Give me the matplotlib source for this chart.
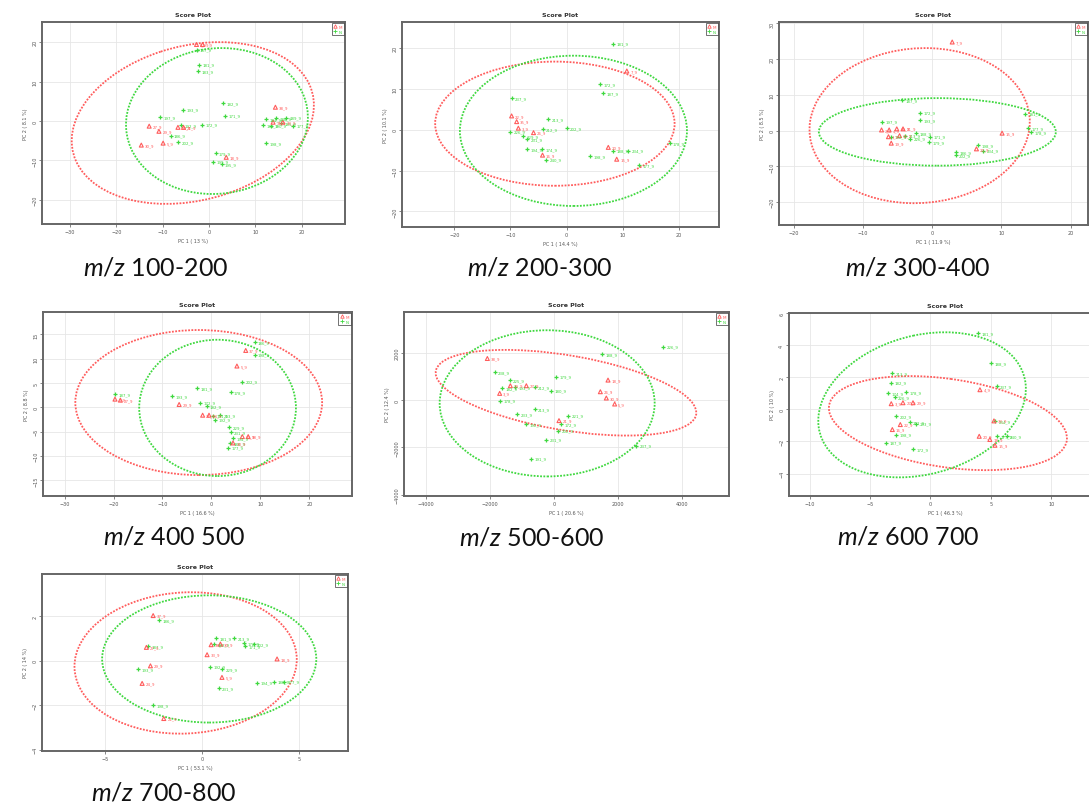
import numpy as np
import matplotlib.pyplot as plt
from matplotlib.patches import Ellipse
from matplotlib.lines import Line2D

plt.rcParams['font.family'] = ['DejaVu Sans']
plt.rcParams['mathtext.fontset'] = 'custom'
plt.rcParams['mathtext.it'] = 'Lato:italic'
plt.rcParams['mathtext.rm'] = 'Lato'

W, H = 1089, 804
RED = '#ff5c5c'
GREEN = '#3fd83f'

# ---------------- m/z 100-200
p1_m_x = [-2.7, -1.4, 14.3, 13.8, 15.9, -12.9, -10.8, -6.7, -5.5, -14.6, -9.9, 3.7]
p1_m_y = [19.4, 19.4, 3.5, -0.3, -0.3, -1.3, -2.6, -1.6, -1.6, -6.1, -5.6, -9.2]
p1_m_lab = ['8_9', '9_9', '38_9', '31_9', '33_9', '27_9', '29_9', '24_9', '21_9', '30_9', '5_9', '18_9']
p1_n_x = [-2.7, -2.2, -2.4, 3.0, -5.6, -10.6, 3.4, -6.0, -1.6, -8.3, -6.7,
          12.3, 14.5, 16.6, 11.6, 13.4, 15.6, 18.1, 12.2, 1.4, 0.9, 2.7]
p1_n_y = [18.1, 14.3, 12.7, 4.6, 2.9, 0.9, 1.4, -1.0, -0.9, -3.7, -5.3,
          0.5, 0.7, 0.8, -1.0, -1.2, -0.5, -1.2, -5.6, -8.1, -10.3, -10.9]
p1_n_lab = ['187_9', '181_9', '183_9', '182_9', '193_9', '197_9', '171_9', '192_9', '172_9',
            '186_9', '202_9', '184_9', '188_9', '189_9', '191_9', '190_9', '185_9', '177_9',
            '198_9', '179_9', '199_9', '195_9']

# ---------------- m/z 200-300
p2_m_x = [10.7, -9.8, -8.9, -8.6, -5.9, 7.4, -4.3, 8.9]
p2_m_y = [14.4, 3.4, 2.0, 0.4, -0.7, -4.3, -6.2, -7.2]
p2_m_lab = ['7_9', '22_9', '35_9', '3_9', '26_9', '20_9', '16_9', '15_9']
p2_n_x = [8.3, 6.0, 6.5, -9.8, -3.3, -10.1, -4.3, 0.0, -7.7, -7.1, -7.1, -4.4, -3.6,
          4.1, 8.3, 10.9, 18.3, 12.9]
p2_n_y = [21.1, 11.2, 8.9, 7.7, 2.6, -0.5, 0.2, 0.4, -1.5, -2.3, -4.7, -4.7, -7.3,
          -6.4, -5.1, -5.1, -3.3, -8.7]
p2_n_lab = ['181_9', '172_9', '187_9', '237_9', '213_9', '226_9', '212_9', '202_9', '229_9',
            '231_9', '194_9', '174_9', '240_9', '198_9', '188_9', '234_9', '178_9', '177_9']

# ---------------- m/z 300-400
p3_m_x = [2.9, -7.3, -6.2, -5.1, -4.2, -6.3, -5.9, -4.7, 10.1, 6.4]
p3_m_y = [24.8, 0.2, 0.2, 0.5, 0.5, -1.7, -3.5, -1.4, -0.7, -5.1]
p3_m_lab = ['7_9', '2_9', '4_9', '36_9', '21_9', '3_9', '19_9', '32_9', '15_9', '20_9']
p3_n_x = [-4.4, -1.7, -1.7, -7.2, 13.4, 13.8, 14.3, -5.9, -3.9, -2.3, -0.3, -0.4,
          6.6, 7.4, 3.5, 3.4, -3.2]
p3_n_y = [8.6, 5.0, 3.0, 2.5, 4.7, 0.7, -0.5, -1.7, -1.4, -0.7, -1.7, -3.3,
          -4.0, -5.6, -6.1, -6.8, -2.3]
p3_n_lab = ['187_9', '172_9', '193_9', '197_9', '181_9', '177_9', '178_9', '192_9', '213_9',
            '188_9', '171_9', '179_9', '198_9', '234_9', '186_9', '202_9', '226_9']

# ---------------- m/z 400 500
p4_m_x = [7.0, 5.2, -19.7, -18.6, -6.6, -1.8, -0.5, 6.3, 7.5, 4.4]
p4_m_y = [11.7, 8.5, 1.7, 1.5, 0.6, -1.6, -1.6, -6.0, -6.0, -7.3]
p4_m_lab = ['37_9', '5_9', '2_9', '27_9', '29_9', '21_9', '24_9', '33_9', '38_9', '30_9']
p4_n_x = [8.8, 8.8, 6.3, -19.7, -2.9, -8.1, 3.9, -2.4, -1.0, 0.3, 1.7, 0.7,
          3.6, 3.9, 4.4, 3.7, 3.4]
p4_n_y = [13.4, 10.8, 5.3, 2.7, 4.0, 2.3, 3.1, 1.0, 0.3, -1.7, -1.6, -2.5,
          -4.1, -5.1, -6.3, -7.3, -8.3]
p4_n_lab = ['186_9', '198_9', '202_9', '187_9', '181_9', '193_9', '178_9', '172_9', '182_9',
            '171_9', '213_9', '192_9', '229_9', '231_9', '194_9', '188_9', '177_9']

# ---------------- m/z 500-600
p5_m_x = [-2086, -1366, -866, -1700, 1690, 1450, 1637, 1898, 156]
p5_m_y = [1752, 603, 603, 280, 841, 350, 84, -168, -869]
p5_m_lab = ['38_9', '29_9', '27_9', '3_9', '18_9', '26_9', '30_9', '5_9', '21_9']
p5_n_x = [3411, 1512, -1857, 73, -1387, -1617, -1231, -605, -83, -1700, -605, -1147,
          -866, 438, 229, 125, -240, 2576, -709]
p5_n_y = [2243, 1935, 1164, 981, 841, 491, 533, 533, 393, -28, -379, -589,
          -1010, -659, -1010, -1290, -1668, -1921, -2481]
p5_n_lab = ['226_9', '188_9', '238_9', '179_9', '225_9', '182_9', '193_9', '212_9', '180_9',
            '178_9', '213_9', '233_9', '192_9', '221_9', '172_9', '202_9', '231_9', '237_9', '191_9']

# ---------------- m/z 600 700
p6_m_x = [4.1, -3.24, -2.27, -1.44, -2.49, -3.15, 5.26, 4.04, 4.92, 5.34]
p6_m_y = [1.22, 0.35, 0.41, 0.41, -0.95, -1.26, -0.72, -1.68, -1.88, -2.24]
p6_m_lab = ['4_9', '3_9', '27_9', '29_9', '22_9', '16_9', '33_9', '20_9', '18_9', '15_9']
p6_n_x = [3.96, 4.98, 5.48, -3.15, -3.29, -3.51, -2.96, -1.99, -2.82, -1.72, -1.16,
          -2.82, -3.65, -1.44, 5.34, 6.31, 5.48]
p6_n_y = [4.74, 2.88, 1.43, 2.26, 1.66, 1.01, 0.77, 1.08, -0.43, -0.79, -0.89,
          -1.57, -2.07, -2.48, -0.75, -1.68, -1.68]
p6_n_lab = ['181_9', '188_9', '237_9', '213_9', '182_9', '174_9', '226_9', '178_9', '202_9',
            '212_9', '193_9', '198_9', '187_9', '172_9', '234_9', '240_9', '177_9']

# ---------------- m/z 700-800
p7_m_x = [-2.53, -2.88, -2.67, -3.1, -1.98, 0.26, 0.47, 0.95, 1.03, 3.88]
p7_m_y = [2.03, 0.6, -0.23, -1.02, -2.6, 0.27, 0.72, 0.75, -0.75, 0.08]
p7_m_lab = ['37_9', '27_9', '29_9', '24_9', '21_9', '33_9', '38_9', '30_9', '5_9', '18_9']
p7_n_x = [-2.24, -2.81, -3.33, -2.53, 0.72, 1.64, 2.16, 2.67, 0.6, 2.24, 0.4, 1.03,
          0.86, 2.84, 3.71, 4.22]
p7_n_y = [1.83, 0.65, -0.38, -2.0, 1.0, 1.0, 0.78, 0.75, 0.75, 0.65, -0.27, -0.38,
          -1.23, -0.98, -0.95, -0.95]
p7_n_lab = ['186_9', '187_9', '193_9', '198_9', '181_9', '213_9', '172_9', '202_9', '182_9',
            '171_9', '192_9', '229_9', '231_9', '194_9', '188_9', '177_9']

# confidence ellipses: centre x, centre y, half width, half height, correlation
p1_ell = [(-3.5, -0.5, 26.1, 20.5, 0.22), (1.7, 0.0, 19.6, 18.5, 0.05)]
p2_ell = [(-2.1, 1.5, 21.3, 15.2, 0.0), (1.2, -0.25, 20.2, 18.4, 0.0)]
p3_ell = [(-1.8, 1.4, 15.9, 21.7, 0.05), (0.75, -0.35, 17.1, 9.45, 0.0)]
p4_ell = [(-2.6, 1.0, 25.2, 14.9, 0.0), (1.25, -0.1, 16.0, 14.0, 0.0)]
p5_ell = [(375, 308, 4078, 1808, -0.465), (-214, -140, 3364, 3084, 0.0)]
p6_ell = [(1.45, -0.86, 9.85, 2.93, -0.32), (-0.69, 0.28, 8.59, 4.52, 0.22)]
p7_ell = [(-0.85, -0.1, 5.75, 3.18, 0.05), (0.37, 0.08, 5.54, 2.86, 0.0)]

x_labels = ['PC 1 ( 13 %)', 'PC 1 ( 14.4 %)', 'PC 1 ( 11.9 %)', 'PC 1 ( 16.6 %)',
            'PC 1 ( 20.6 %)', 'PC 1 ( 46.3 %)', 'PC 1 ( 53.1 %)']
y_labels = ['PC 2 ( 8.1 %)', 'PC 2 ( 10.1 %)', 'PC 2 ( 8.5 %)', 'PC 2 ( 8.8 %)',
            'PC 2 ( 12.4 %)', 'PC 2 ( 10 %)', 'PC 2 ( 14 %)']
captions = ['100-200', '200-300', '300-400', '400 500', '500-600', '600 700', '700-800']

panels = [
    dict(box=(42, 23, 345, 225), xlim=(-36, 29.3), ylim=(-26.1, 25.1),
         xt=[-30, -20, -10, 0, 10, 20], yt=[-20, -10, 0, 10, 20], cap=(156, 268),
         m=(p1_m_x, p1_m_y, p1_m_lab), n=(p1_n_x, p1_n_y, p1_n_lab), ell=p1_ell),
    dict(box=(402, 23, 719, 228), xlim=(-29.3, 27.1), ylim=(-23.8, 26.4),
         xt=[-20, -10, 0, 10, 20], yt=[-20, -10, 0, 10, 20], cap=(540, 268),
         m=(p2_m_x, p2_m_y, p2_m_lab), n=(p2_n_x, p2_n_y, p2_n_lab), ell=p2_ell),
    dict(box=(779, 23, 1088, 226), xlim=(-22.1, 22.5), ylim=(-26.4, 30.4),
         xt=[-20, -10, 0, 10, 20], yt=[-20, -10, 0, 10, 20, 30], cap=(918, 268),
         m=(p3_m_x, p3_m_y, p3_m_lab), n=(p3_n_x, p3_n_y, p3_n_lab), ell=p3_ell),
    dict(box=(43, 313, 352, 497), xlim=(-34.4, 28.7), ylim=(-18.2, 19.6),
         xt=[-30, -20, -10, 0, 10, 20], yt=[-15, -10, -5, 0, 5, 10, 15], cap=(174, 537),
         m=(p4_m_x, p4_m_y, p4_m_lab), n=(p4_n_x, p4_n_y, p4_n_lab), ell=p4_ell),
    dict(box=(404, 313, 729, 497), xlim=(-4694, 5476), ylim=(-4050, 3714),
         xt=[-4000, -2000, 0, 2000, 4000], yt=[-4000, -2000, 0, 2000], cap=(532, 538),
         m=(p5_m_x, p5_m_y, p5_m_lab), n=(p5_n_x, p5_n_y, p5_n_lab), ell=p5_ell),
    dict(box=(789, 314, 1102, 497), xlim=(-11.7, 14.2), ylim=(-5.4, 6.0),
         xt=[-10, -5, 0, 5, 10], yt=[-4, -2, 0, 2, 4, 6], cap=(908, 537),
         m=(p6_m_x, p6_m_y, p6_m_lab), n=(p6_n_x, p6_n_y, p6_n_lab), ell=p6_ell),
    dict(box=(42, 575, 348, 752), xlim=(-8.28, 7.55), ylim=(-4.06, 3.9),
         xt=[-5, 0, 5], yt=[-4, -2, 0, 2], cap=(164, 793),
         m=(p7_m_x, p7_m_y, p7_m_lab), n=(p7_n_x, p7_n_y, p7_n_lab), ell=p7_ell),
]


def draw_ellipse(ax, e, color):
    cx, cy, sx, sy, r = e
    cov = np.array([[sx * sx, r * sx * sy], [r * sx * sy, sy * sy]])
    vals, vecs = np.linalg.eigh(cov)
    ang = np.degrees(np.arctan2(vecs[1, 1], vecs[0, 1]))
    ax.add_patch(Ellipse((cx, cy), 2 * np.sqrt(vals[1]), 2 * np.sqrt(vals[0]), angle=ang,
                         fill=False, edgecolor=color, lw=1.3, linestyle=(0, (1, 0.8))))


fig = plt.figure(figsize=(W / 100, H / 100), dpi=100)

for i, p in enumerate(panels):
    l, t, r, b = p['box']
    ax = fig.add_axes([l / W, 1 - b / H, (r - l) / W, (b - t) / H])
    ax.set_xlim(*p['xlim'])
    ax.set_ylim(*p['ylim'])
    ax.set_xticks(p['xt'])
    ax.set_yticks(p['yt'])
    ax.grid(True, color='#e6e6e6', lw=0.6)
    ax.set_axisbelow(True)
    for s in ax.spines.values():
        s.set_color('#666666')
        s.set_linewidth(1.4)
    ax.tick_params(labelsize=3.5, colors='#555555', length=2, width=0.5, pad=1.5)
    for lab in ax.get_yticklabels():
        lab.set_rotation(90)
        lab.set_va('center')
    ax.set_title('Score Plot', fontsize=4.5, fontweight='bold', color='#333333', pad=4)
    ax.set_xlabel(x_labels[i], fontsize=3.5, color='#555555', labelpad=3)
    ax.set_ylabel(y_labels[i], fontsize=3.5, color='#555555', labelpad=3)

    draw_ellipse(ax, p['ell'][0], RED)
    draw_ellipse(ax, p['ell'][1], GREEN)

    mx, my, ml = p['m']
    nx, ny, nl = p['n']
    ax.scatter(nx, ny, marker='+', s=7, color=GREEN, lw=0.9, zorder=3)
    ax.scatter(mx, my, marker='^', s=8, facecolor='none', edgecolor=RED, lw=0.8, zorder=3)
    for x, y, s in zip(nx, ny, nl):
        ax.annotate(s, (x, y), xytext=(2.5, 0), textcoords='offset points',
                    fontsize=2.8, color=GREEN, va='center')
    for x, y, s in zip(mx, my, ml):
        ax.annotate(s, (x, y), xytext=(2.5, 0), textcoords='offset points',
                    fontsize=2.8, color=RED, va='center')

    handles = [Line2D([], [], marker='^', ls='none', mfc='none', mec=RED, ms=2.5, mew=0.6),
               Line2D([], [], marker='+', ls='none', color=GREEN, ms=2.5, mew=0.6)]
    leg = ax.legend(handles, ['M', 'N'], loc='upper right', fontsize=3, frameon=True,
                    fancybox=False, borderpad=0.4, handletextpad=0.3, handlelength=1,
                    labelspacing=0.2, borderaxespad=0.3)
    leg.get_frame().set_edgecolor('#333333')
    leg.get_frame().set_linewidth(0.6)
    for txt, c in zip(leg.get_texts(), [RED, GREEN]):
        txt.set_color(c)

    cx, cy = p['cap']
    fig.text(cx / W, 1 - cy / H, r'$\mathit{m/z}$ ' + captions[i], fontsize=18,
             family='Lato', ha='center', va='center', color='#111111')

fig.savefig('out.png', dpi=100)
